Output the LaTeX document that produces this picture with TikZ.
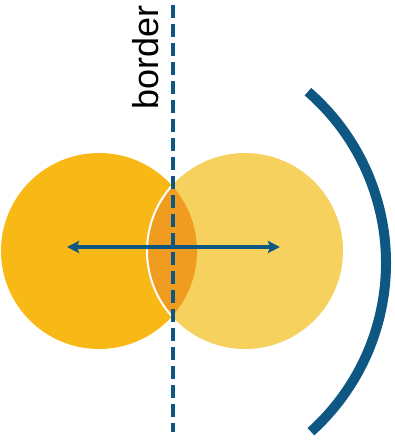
\documentclass[tikz,border=0pt]{standalone}
\usepackage{fontspec}
\setmainfont{Liberation Sans}
\usetikzlibrary{arrows.meta}
\definecolor{sunleft}{HTML}{F8B916}
\definecolor{sunright}{HTML}{F6D15E}
\definecolor{overlap}{HTML}{F09C20}
\definecolor{deepblue}{HTML}{0E5783}
\begin{document}
\begin{tikzpicture}[x=1pt,y=1pt]
\useasboundingbox (0,0) rectangle (394,446);
\coordinate (lc) at (99,195);
\coordinate (rc) at (245,195);
\fill[sunleft] (lc) circle (98);
\fill[sunright] (rc) circle (98);
\begin{scope}
\clip (lc) circle (98);
\fill[overlap] (rc) circle (98);
\draw[white,line width=2] (rc) circle (98);
\end{scope}
\coordinate (top) at (173,441);
\coordinate (bot) at (173,14);
\draw[deepblue,line width=4,dash pattern=on 13pt off 6pt] (top) -- (bot);
\coordinate (la) at (67,199);
\coordinate (ra) at (280,199);
\draw[deepblue,line width=3.5,{Stealth[length=12pt,width=12pt,inset=2pt]}-{Stealth[length=12pt,width=12pt,inset=2pt]}] (la) -- (ra);
\draw[deepblue,line width=10] (159,183) ++(49:227) arc (49:-48:227);
\node[rotate=90,anchor=base east,inner sep=0pt,font=\fontsize{36}{42}\selectfont] (label) at (158,441) {border};
\end{tikzpicture}
\end{document}
